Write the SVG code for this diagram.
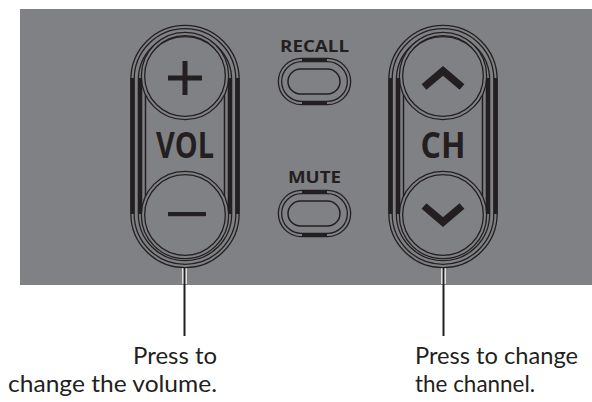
<svg xmlns="http://www.w3.org/2000/svg" width="592" height="402" viewBox="0 0 592 402">
<style>
.ink{fill:none;stroke:#231f20;stroke-width:4.6}
.gap{fill:none;stroke:#808185;stroke-width:2}
.thin{fill:none;stroke:#231f20;stroke-width:1.5}
.bar{fill:#231f20}
.lbl{font-family:"Open Sans","Liberation Sans",sans-serif;font-weight:700;fill:#231f20;text-anchor:middle}
.cap{font-family:Lato,"Open Sans",sans-serif;font-size:23px;fill:#231f20}
.lead{stroke:#231f20;stroke-width:2}
.halo{stroke:#ffffff;stroke-width:4.5}
.chev{fill:none;stroke:#231f20;stroke-width:7.5;stroke-linejoin:miter}
</style>
<defs>
<g id="rocker">
<rect class="ink" x="-52.5" y="27" width="105" height="239" rx="52.5"/>
<rect class="gap" x="-52.5" y="27" width="105" height="239" rx="52.5"/>
<rect class="ink" x="-45" y="35" width="90" height="224" rx="45"/>
<rect class="gap" x="-45" y="35" width="90" height="224" rx="45"/>
<line class="thin" x1="-39.5" y1="88" x2="-39.5" y2="203"/>
<line class="thin" x1="39.5" y1="88" x2="39.5" y2="203"/>
<circle class="ink" cx="0" cy="76" r="42"/>
<circle class="gap" cx="0" cy="76" r="42"/>
<circle class="ink" cx="0" cy="215" r="42"/>
<circle class="gap" cx="0" cy="215" r="42"/>
<rect class="bar" x="-54.5" y="78" width="3.8" height="136"/>
<rect class="bar" x="-47" y="78" width="3.8" height="136"/>
<rect class="bar" x="50.7" y="78" width="3.8" height="136"/>
<rect class="bar" x="43.2" y="78" width="3.8" height="136"/>
</g>
<g id="btn">
<rect class="ink" x="280" y="0" width="69" height="43" rx="21.5"/>
<rect class="gap" x="280" y="0" width="69" height="43" rx="21.5"/>
<rect class="thin" x="288" y="9" width="52" height="25" rx="12.5"/>
<rect class="bar" x="302" y="-1.5" width="25" height="3.5"/>
<rect class="bar" x="302" y="41" width="25" height="3.5"/>
</g>
</defs>
<rect id="panel" x="20" y="9" width="572" height="276" fill="#808185"/>
<g id="connectors">
<line class="halo" x1="184.5" y1="268" x2="184.5" y2="284"/>
<line class="lead" x1="184.5" y1="267" x2="184.5" y2="336"/>
<line class="halo" x1="443.5" y1="268" x2="443.5" y2="284"/>
<line class="lead" x1="443.5" y1="267" x2="443.5" y2="336"/>
</g>
<g id="vol">
<use href="#rocker" transform="translate(185,0)"/>
<rect class="bar" x="168" y="75.5" width="34" height="5"/>
<rect class="bar" x="182.5" y="61" width="5" height="34"/>
<rect class="bar" x="168" y="212" width="38" height="4.2"/>
<text class="lbl" x="185" y="158" font-size="36" textLength="58" lengthAdjust="spacingAndGlyphs">VOL</text>
</g>
<g id="ch">
<use href="#rocker" transform="translate(443,0)"/>
<polyline class="chev" points="424,87 443,71 462,87"/>
<polyline class="chev" points="424,206 443,222 462,206"/>
<text class="lbl" x="443" y="158" font-size="35" textLength="45" lengthAdjust="spacingAndGlyphs">CH</text>
</g>
<g id="recall">
<use href="#btn" transform="translate(0,60)"/>
<text class="lbl" x="314.5" y="52" font-size="16.5" textLength="69" lengthAdjust="spacingAndGlyphs">RECALL</text>
</g>
<g id="mute">
<use href="#btn" transform="translate(0,192)"/>
<text class="lbl" x="314.5" y="183" font-size="16" textLength="53" lengthAdjust="spacingAndGlyphs">MUTE</text>
</g>
<g id="vol-caption">
<text class="cap" x="217" y="364" text-anchor="end" textLength="84" lengthAdjust="spacingAndGlyphs">Press to</text>
<text class="cap" x="217" y="392" text-anchor="end" textLength="209" lengthAdjust="spacingAndGlyphs">change the volume.</text>
</g>
<g id="ch-caption">
<text class="cap" x="415" y="364" textLength="163" lengthAdjust="spacingAndGlyphs">Press to change</text>
<text class="cap" x="415" y="392" textLength="120" lengthAdjust="spacingAndGlyphs">the channel.</text>
</g>
</svg>
